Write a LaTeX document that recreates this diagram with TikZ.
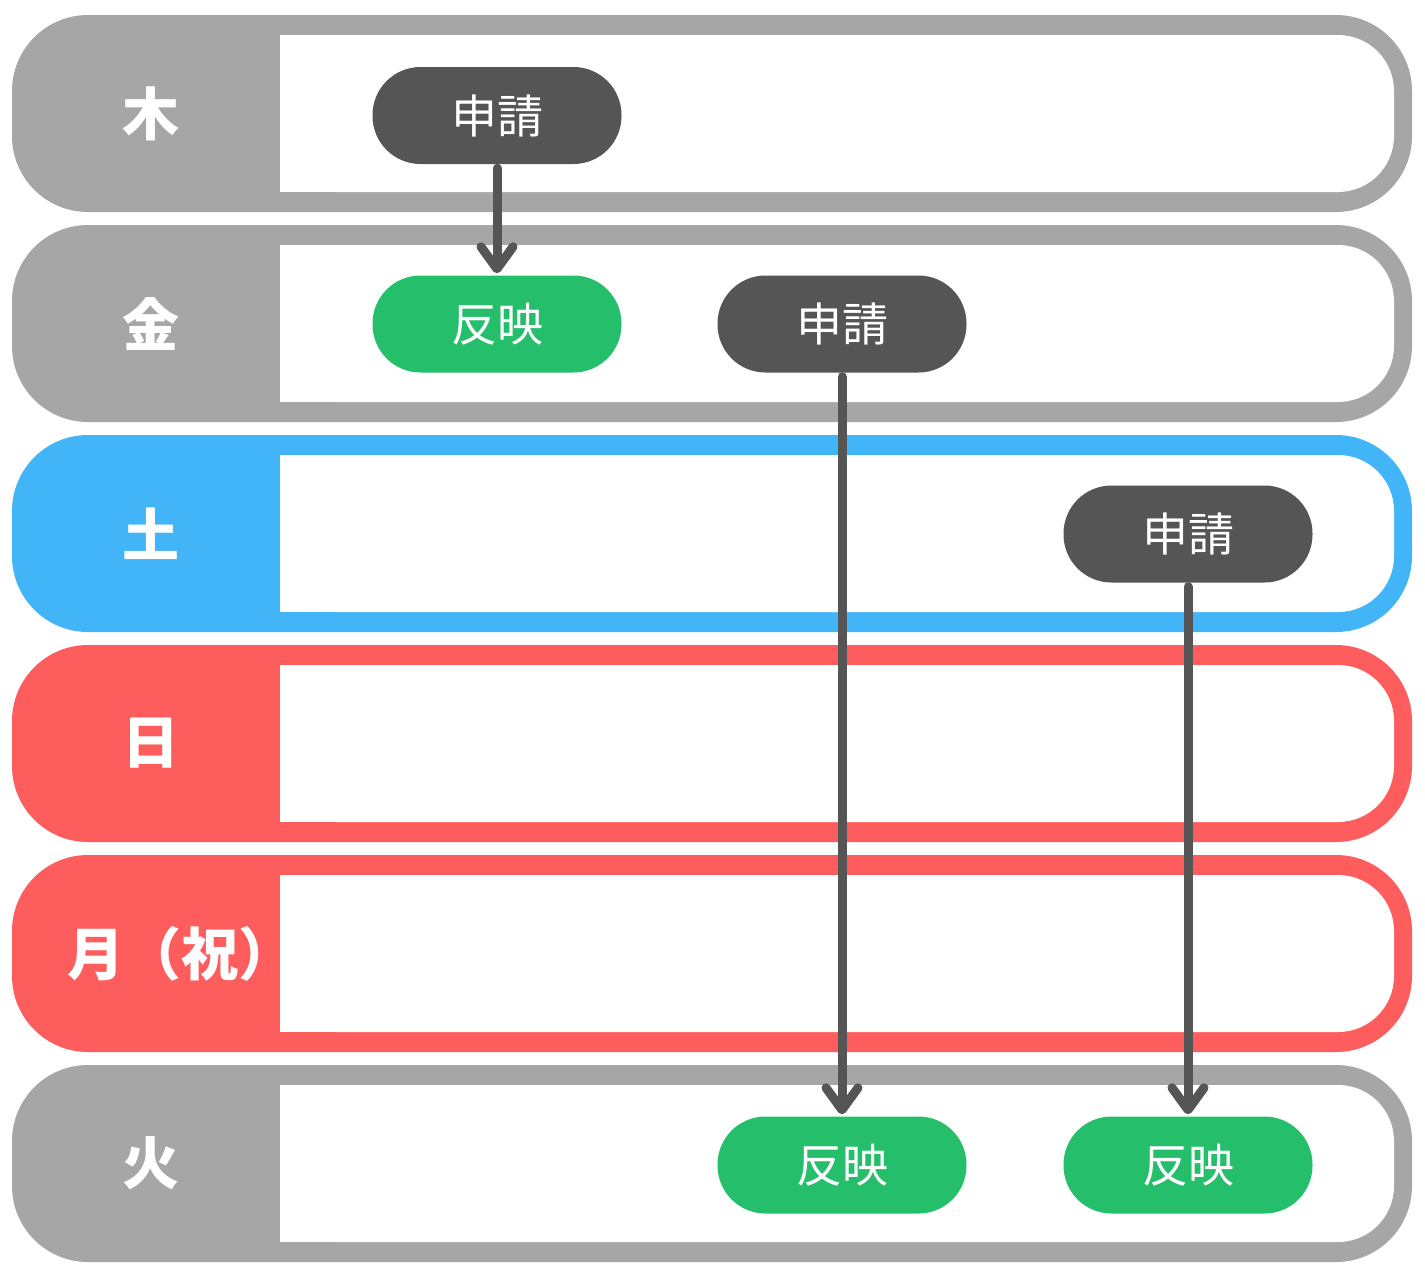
\documentclass[tikz,border=0pt]{standalone}
\usepackage{fontspec}
\newfontfamily\cjk{Noto Sans CJK JP}
\usetikzlibrary{arrows.meta}
\definecolor{rowgray}{HTML}{A6A6A6}
\definecolor{rowblue}{HTML}{42B5F9}
\definecolor{rowred}{HTML}{FD5D5D}
\definecolor{darkg}{HTML}{555555}
\definecolor{greenp}{HTML}{25BF6C}
\begin{document}
\begin{tikzpicture}[x=1pt,y=-1pt,
  daylabel/.style={text=white, inner sep=0pt, font=\cjk\bfseries\fontsize{57}{60}\selectfont},
  pill/.style={rectangle, rounded corners=48pt, minimum width=249pt, minimum height=97pt, inner sep=0pt, text=white, font=\cjk\fontsize{46}{50}\selectfont},
  applybox/.style={pill, fill=darkg},
  reflectbox/.style={pill, fill=greenp},
  flowarrow/.style={line width=9pt, draw=darkg, line cap=round, -{Straight Barb[length=22pt, width=32pt, round]}}
]
\useasboundingbox (0,0) rectangle (1425,1278);
\fill[white] (0,0) rectangle (1425,1278);
\foreach \t/\c/\lab/\lx [count=\i] in {15/rowgray/木/151, 225/rowgray/金/151, 435/rowblue/土/151, 645/rowred/日/151, 855/rowred/月（祝）/181, 1065/rowgray/火/151}{
  \fill[\c, rounded corners=76pt] (12,\t) rectangle (1412,\t+197);
  \fill[white, rounded corners=56pt] (280,\t+20) rectangle (1394,\t+177);
  \fill[white] (280,\t+20) rectangle (400,\t+177);
  \node[daylabel] (day\i) at (\lx,\t+98.5) {\lab};
}
\node[applybox] (a1) at (497,115.5) {申請};
\node[reflectbox] (r1) at (497,324) {反映};
\node[applybox] (a2) at (842,324) {申請};
\node[applybox] (a3) at (1188,534) {申請};
\node[reflectbox] (r2) at (842,1165) {反映};
\node[reflectbox] (r3) at (1188,1165) {反映};
\draw[flowarrow] ([yshift=-4pt]a1.south) -- ([yshift=2pt]r1.north);
\draw[flowarrow] ([yshift=-4pt]a2.south) -- ([yshift=2pt]r2.north);
\draw[flowarrow] ([yshift=-4pt]a3.south) -- ([yshift=2pt]r3.north);
\end{tikzpicture}
\end{document}
